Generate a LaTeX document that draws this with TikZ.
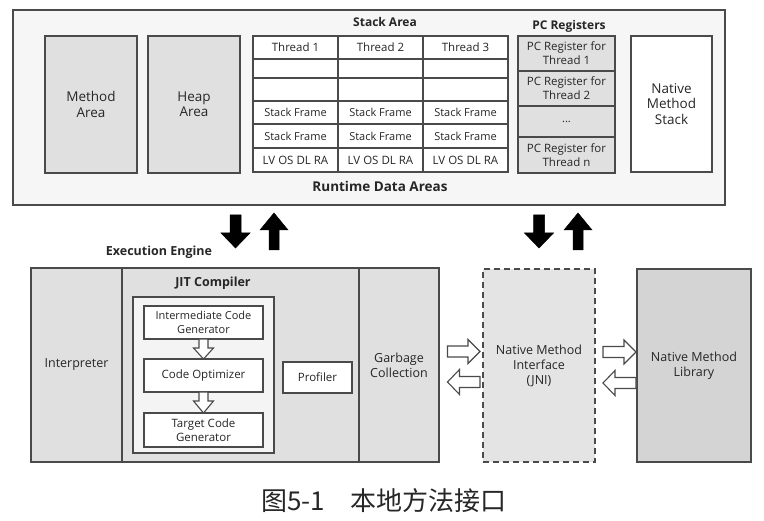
\documentclass[tikz,border=0pt]{standalone}
\usepackage{fontspec}
\setmainfont{Open Sans}
\newfontfamily\cjk{Noto Sans CJK SC}
\definecolor{ln}{HTML}{4A4A4A}
\definecolor{tx}{HTML}{262626}
\definecolor{outerbg}{HTML}{F6F6F6}
\definecolor{midgray}{HTML}{E0E0E0}
\definecolor{jitbg}{HTML}{F4F4F4}
\definecolor{jnibg}{HTML}{E4E4E4}
\definecolor{libbg}{HTML}{D4D4D4}
\newcommand\rbox[7][]{\node[box,#1,minimum width={(#5)-(#3)},minimum height={(#6)-(#4)}] (#2) at ({((#3)+(#5))/2},{((#4)+(#6))/2}) {#7};}
\newcommand\vblk[7]{\draw[#1] ({#2-#6},#3) -- ({#2+#6},#3) -- ({#2+#6},#5) -- ({#2+#7},#5) -- (#2,#4) -- ({#2-#7},#5) -- ({#2-#6},#5) -- cycle;}
\newcommand\hblk[7]{\draw[#1] (#3,{#2-#6}) -- (#3,{#2+#6}) -- (#5,{#2+#6}) -- (#5,{#2+#7}) -- (#4,#2) -- (#5,{#2-#7}) -- (#5,{#2-#6}) -- cycle;}
\begin{document}
\begin{tikzpicture}[x=1pt,y=-1pt,
  box/.style={draw=ln,line width=1.2pt,inner sep=0pt,align=center,text=tx},
  big/.style={font=\fontsize{13.5}{15.5}\selectfont},
  mid/.style={font=\fontsize{12.5}{15}\selectfont},
  sml/.style={font=\fontsize{11.5}{14}\selectfont},
  tiny/.style={font=\fontsize{11}{13.5}\selectfont},
  title/.style={text=tx,inner sep=0pt,font=\fontsize{12.5}{15}\selectfont\bfseries},
  blk/.style={fill=black,draw=black,line width=0.5pt,line join=miter},
  hol/.style={fill=white,draw=ln,line width=1.1pt,line join=miter}]
\useasboundingbox (0,0) rectangle (764,521);
% runtime data areas
\rbox[fill=outerbg]{rda}{13}{10}{725}{205}{}
\node[title,font=\fontsize{12}{14}\selectfont\bfseries] (stacklbl) at (385,22) {Stack Area};
\node[title,font=\fontsize{12}{14}\selectfont\bfseries] (pclbl) at (569,26) {PC Registers};
\node[title,font=\fontsize{13.5}{16}\selectfont\bfseries] (rdalbl) at (380,186) {Runtime Data Areas};
\rbox[fill=midgray,big]{method}{45}{36}{137}{173}{Method\\Area}
\rbox[fill=midgray,big]{heap}{148}{36}{240}{173}{Heap\\Area}
% stack table
\rbox[fill=white,sml]{t11}{253}{36}{338}{59}{Thread 1}
\rbox[fill=white,sml]{t12}{338}{36}{423}{59}{Thread 2}
\rbox[fill=white,sml]{t13}{423}{36}{508}{59}{Thread 3}
\rbox[fill=white]{t21}{253}{59}{338}{78}{}
\rbox[fill=white]{t22}{338}{59}{423}{78}{}
\rbox[fill=white]{t23}{423}{59}{508}{78}{}
\rbox[fill=white]{t31}{253}{78}{338}{101}{}
\rbox[fill=white]{t32}{338}{78}{423}{101}{}
\rbox[fill=white]{t33}{423}{78}{508}{101}{}
\rbox[fill=white,tiny]{t41}{253}{101}{338}{124}{Stack Frame}
\rbox[fill=white,tiny]{t42}{338}{101}{423}{124}{Stack Frame}
\rbox[fill=white,tiny]{t43}{423}{101}{508}{124}{Stack Frame}
\rbox[fill=white,tiny]{t51}{253}{124}{338}{148}{Stack Frame}
\rbox[fill=white,tiny]{t52}{338}{124}{423}{148}{Stack Frame}
\rbox[fill=white,tiny]{t53}{423}{124}{508}{148}{Stack Frame}
\rbox[fill=white,sml]{t61}{253}{148}{338}{172}{LV OS DL RA}
\rbox[fill=white,sml]{t62}{338}{148}{423}{172}{LV OS DL RA}
\rbox[fill=white,sml]{t63}{423}{148}{508}{172}{LV OS DL RA}
% pc registers
\rbox[fill=midgray,sml]{pc1}{518}{36}{615}{71}{PC Register for\\Thread 1}
\rbox[fill=midgray,sml]{pc2}{518}{71}{615}{106}{PC Register for\\Thread 2}
\rbox[fill=midgray,tiny]{pc3}{518}{106}{615}{137}{...}
\rbox[fill=midgray,sml]{pc4}{518}{137}{615}{173}{PC Register for\\Thread n}
\rbox[fill=white,big]{nms}{631}{36}{712}{172}{Native\\Method\\Stack}
% black arrows
\vblk{blk}{235.5}{215}{248}{233}{5.5}{14.5}
\vblk{blk}{274}{250}{213}{230}{5}{14}
\vblk{blk}{539}{215}{248}{233}{5.5}{14.5}
\vblk{blk}{578}{250}{213}{230}{5}{14}
% execution engine
\node[title] (eelbl) at (159,252) {Execution Engine};
\rbox[fill=midgray,mid]{interp}{31}{268}{122}{462}{Interpreter}
\rbox[fill=midgray]{jit}{122}{268}{359}{462}{}
\rbox[fill=midgray,mid]{gc}{359}{268}{439}{462}{Garbage\\Collection}
\node[title] (jitlbl) at (213,283) {JIT Compiler};
\rbox[fill=jitbg]{jitin}{133}{297}{274}{453}{}
\rbox[fill=white,tiny]{icg}{144}{306}{263}{339}{Intermediate Code\\Generator}
\rbox[fill=white,sml]{opt}{144}{359}{263}{392}{Code Optimizer}
\rbox[fill=white,sml]{tcg}{144}{413}{263}{447}{Target Code\\Generator}
\rbox[fill=white,sml]{prof}{283}{362}{352}{393}{Profiler}
\vblk{hol}{203.5}{339}{359}{348}{4.5}{10}
\vblk{hol}{203.5}{392}{413}{401}{4.5}{10}
% JNI and library
\rbox[fill=jnibg,dash pattern=on 6pt off 4pt,mid]{jni}{483}{269}{595}{462}{Native Method\\Interface\\(JNI)}
\rbox[fill=libbg,mid]{lib}{637}{269}{751}{462}{Native Method\\Library}
\hblk{hol}{351.5}{447.5}{480}{468}{5.5}{12}
\hblk{hol}{382}{480}{447.5}{459.5}{5.5}{12.5}
\hblk{hol}{352}{603}{636}{624}{5.5}{12}
\hblk{hol}{383}{636}{603}{615}{5.5}{12.5}
% caption
\node[inner sep=0pt,text=black!85,font=\cjk\fontsize{26}{30}\selectfont] (cap) at (384,501) {图5-1　本地方法接口};
\end{tikzpicture}
\end{document}
